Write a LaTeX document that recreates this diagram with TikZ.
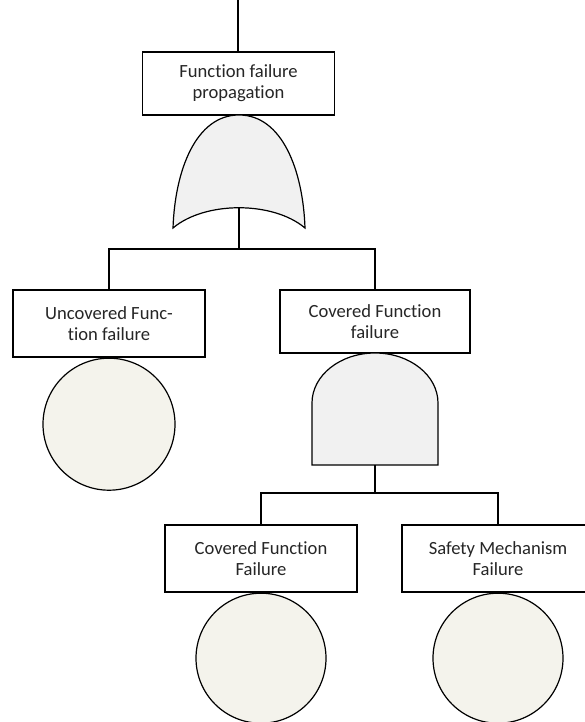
\documentclass[tikz,border=0pt]{standalone}
\usepackage{fontspec}
\setmainfont[Ligatures={NoCommon}]{Carlito}
\usetikzlibrary{positioning}
\definecolor{gategray}{RGB}{241,241,241}
\definecolor{eventcream}{RGB}{244,243,236}
\definecolor{textgray}{RGB}{38,38,38}

\begin{document}
\begin{tikzpicture}[x=1pt, y=-1pt, line width=1.2pt,
  box/.style={draw, fill=white, text=textgray, minimum width=192pt, minimum height=67pt, align=center, inner sep=0pt, font=\fontsize{18.6}{21}\selectfont},
  event/.style={draw, circle, fill=eventcream, minimum size=132pt, inner sep=0pt}]
  \useasboundingbox (0,0) rectangle (584,722);
  % top event and OR gate
  \coordinate (top) at (238,0);
  \node[box, minimum height=63pt] (ffp) at (238.5,83.5) {Function failure\\propagation};
  \draw (top) -- (ffp.north -| top);
  \draw[fill=gategray] (239,115) .. controls (196,115) and (175,170) .. (173,228)
    .. controls (205,201) and (273,201) .. (305,228)
    .. controls (303,170) and (282,115) .. (239,115) -- cycle;
  \coordinate (orout) at (239,208);
  \coordinate (j1) at (239,249);
  % second level
  \node[box] (ucf) at (109,323.5) {Uncovered Func-\\tion failure};
  \node[box, minimum width=190pt, minimum height=63pt] (cf) at (375,321.5) {Covered Function\\failure};
  \draw (orout) -- (j1);
  \draw (ucf.north) |- (j1) -| (cf.north);
  \node[event, below=0pt of ucf] (ucfev) {};
  % AND gate
  \draw[fill=gategray] (312,465) -- (312,403) arc[start angle=180, end angle=0, x radius=63, y radius=-50] -- (438,465) -- cycle;
  \coordinate (andout) at (375,465);
  \coordinate (j2) at (375,493);
  % bottom level
  \node[box] (cff) at (261,558.5) {Covered Function\\Failure};
  \node[box] (smf) at (498,558.5) {Safety Mechanism\\Failure};
  \draw (andout) -- (j2);
  \draw (cff.north) |- (j2) -| (smf.north);
  \node[event, minimum size=130pt, below=0pt of cff] (cffev) {};
  \node[event, minimum size=130pt, below=0pt of smf] (smfev) {};
\end{tikzpicture}
\end{document}
